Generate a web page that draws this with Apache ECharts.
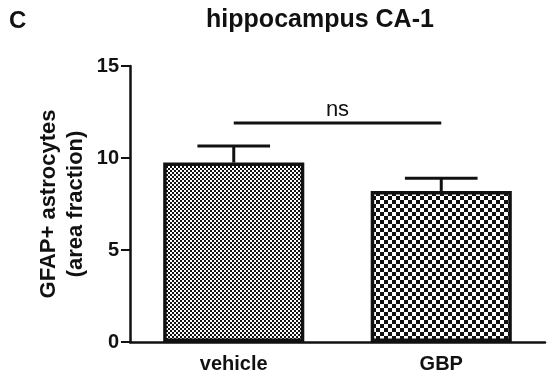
<!DOCTYPE html>
<html>
<head>
<meta charset="utf-8">
<script src="https://cdn.jsdelivr.net/npm/echarts@6/dist/echarts.min.js"></script>
<style>
  html, body { margin: 0; padding: 0; background: #fff; }
  #chart { width: 550px; height: 377px; }
</style>
</head>
<body>
<div id="chart"></div>
<script>
// data
const categories = ['vehicle', 'GBP']
const means = [9.75, 8.2]
const errTops = [10.65, 8.9]
const bracketY = [11.9]
const bracketLabel = ['ns']
const yTicks = [0, 5, 10, 15]

// checkerboard fills
const makeChecker = (cell) => {
  const c = document.createElement('canvas')
  c.width = cell * 2
  c.height = cell * 2
  const ctx = c.getContext('2d')
  ctx.fillStyle = '#fff'
  ctx.fillRect(0, 0, cell * 2, cell * 2)
  ctx.fillStyle = '#111'
  ctx.fillRect(0, 0, cell, cell)
  ctx.fillRect(cell, cell, cell, cell)
  return c
}
const fineFill = { image: makeChecker(2), repeat: 'repeat' }
const coarseFill = { image: makeChecker(4), repeat: 'repeat' }

const chartInstance = echarts.init(document.getElementById('chart'))
const fontFamily = 'Liberation Sans, Arial, sans-serif'

const option = {
  animation: false,
  title: [
    {
      text: 'C', left: 4, top: 4,
      textStyle: { fontFamily, fontSize: 24, fontWeight: 'bold', color: '#111' }
    },
    {
      text: 'hippocampus CA-1', left: 315, top: 3, textAlign: 'center',
      textStyle: { fontFamily, fontSize: 25, fontWeight: 'bold', color: '#111' }
    }
  ],
  grid: { left: 130, right: 5, top: 66, bottom: 35 },
  xAxis: {
    type: 'category',
    data: categories,
    axisLine: { lineStyle: { color: '#111', width: 2.5 } },
    axisTick: { alignWithLabel: true, length: 6, lineStyle: { color: '#111', width: 2 } },
    axisLabel: { fontFamily, fontSize: 20, fontWeight: 'bold', color: '#111', margin: 12 }
  },
  yAxis: {
    type: 'value',
    min: 0, max: 15, interval: 5,
    name: 'GFAP+ astrocytes\n(area fraction)',
    nameLocation: 'middle',
    nameGap: 41,
    nameMoveOverlap: false,
    nameTextStyle: { fontFamily, fontSize: 22, fontWeight: 'bold', color: '#111', lineHeight: 27 },
    axisLine: { show: true, lineStyle: { color: '#111', width: 2.5 } },
    axisTick: { show: true, length: 9, lineStyle: { color: '#111', width: 2 } },
    axisLabel: {
      fontFamily, fontSize: 20, fontWeight: 'bold', color: '#111', margin: 11,
      formatter: v => yTicks.includes(v) ? String(v) : ''
    },
    splitLine: { show: false }
  },
  series: [
    {
      type: 'bar',
      barWidth: '68%',
      data: means.map((v, i) => ({
        value: v,
        itemStyle: { color: i === 0 ? fineFill : coarseFill }
      })),
      itemStyle: { borderColor: '#111', borderWidth: 3.5 },
      z: 2
    },
    {
      // error bars (upper half only)
      type: 'custom',
      data: means.map((m, i) => [i, m, errTops[i]]),
      renderItem: (params, api) => {
        const base = api.coord([api.value(0), api.value(1)])
        const top = api.coord([api.value(0), api.value(2)])
        const half = api.size([1, 0])[0] * 0.175
        const style = { stroke: '#111', lineWidth: 3 }
        return {
          type: 'group',
          children: [
            { type: 'line', shape: { x1: base[0], y1: base[1], x2: top[0], y2: top[1] }, style },
            { type: 'line', shape: { x1: top[0] - half, y1: top[1], x2: top[0] + half, y2: top[1] }, style }
          ]
        }
      },
      z: 3
    },
    {
      // significance bracket
      type: 'custom',
      data: bracketY.map((y, i) => [0, 1, y, i]),
      renderItem: (params, api) => {
        const a = api.coord([api.value(0), api.value(2)])
        const b = api.coord([api.value(1), api.value(2)])
        return {
          type: 'group',
          children: [
            { type: 'line', shape: { x1: a[0], y1: a[1], x2: b[0], y2: b[1] }, style: { stroke: '#111', lineWidth: 3 } },
            {
              type: 'text',
              x: (a[0] + b[0]) / 2, y: a[1] - 2,
              style: {
                text: bracketLabel[api.value(3)],
                fontFamily, fontSize: 22, fill: '#111',
                align: 'center', verticalAlign: 'bottom'
              }
            }
          ]
        }
      },
      z: 3
    }
  ]
}

chartInstance.setOption(option)
</script>
</body>
</html>
